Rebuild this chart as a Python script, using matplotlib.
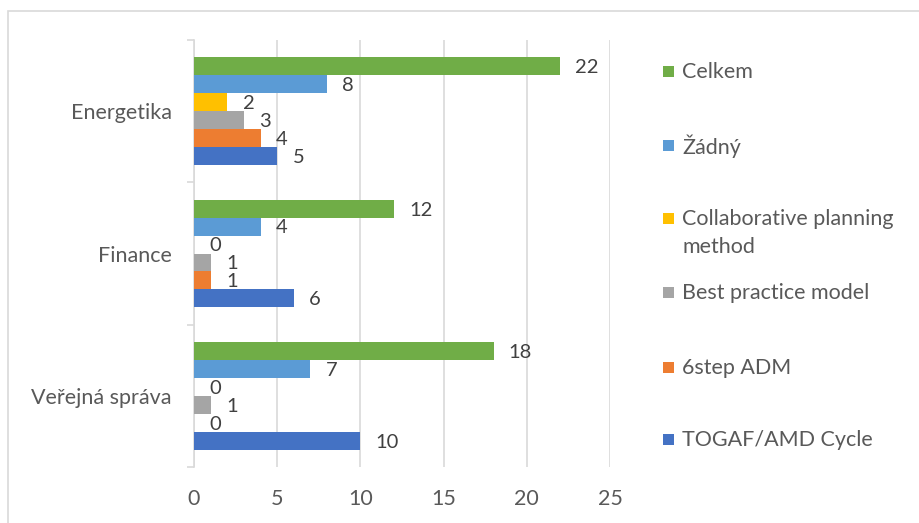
import numpy as np
import matplotlib
matplotlib.use("Agg")
from matplotlib import pyplot as plt
from matplotlib.patches import Rectangle

# categories from bottom to top
categories = ["Veřejná správa", "Finance", "Energetika"]

# series in stacking order (bottom bar of each group first)
series_names = [
    "TOGAF/AMD Cycle",
    "6step ADM",
    "Best practice model",
    "Collaborative planning\nmethod",
    "Žádný",
    "Celkem",
]
togaf = [10, 6, 5]
six_step = [0, 1, 4]
best_practice = [1, 1, 3]
collaborative = [0, 0, 2]
zadny = [7, 4, 8]
celkem = [18, 12, 22]

x_ticks = [0, 5, 10, 15, 20, 25]

colors = ["#4472C4", "#ED7D31", "#A5A5A5", "#FFC000", "#5B9BD5", "#70AD47"]
text_color = "#595959"
grid_color = "#D9D9D9"

plt.rcParams["font.family"] = ["Lato", "DejaVu Sans"]
plt.rcParams["font.size"] = 15.5

W, H = 919, 523
fig = plt.figure(figsize=(W / 100, H / 100), dpi=100)

# light outer frame of the chart area (left and top edges visible)
fig.patches.append(Rectangle((8 / W, -0.2), 2.0, 1.2 - 11 / H,
                             transform=fig.transFigure, fill=False,
                             edgecolor=grid_color, linewidth=1.2))

ax = fig.add_axes([194 / W, 56 / H, (610 - 194) / W, (483 - 56) / H])

values = [togaf, six_step, best_practice, collaborative, zadny, celkem]
y = np.arange(len(categories))
bar_h = 0.126
n = len(values)

for i, (vals, color) in enumerate(zip(values, colors)):
    pos = y + (i - (n - 1) / 2) * bar_h
    bars = ax.barh(pos, vals, height=bar_h, color=color, linewidth=0, zorder=3)
    for rect, v in zip(bars, vals):
        ax.annotate(str(v), (rect.get_width(), rect.get_y() + rect.get_height() / 2),
                    xytext=(11, -1), textcoords="offset points",
                    ha="left", va="center", color="#404040", fontsize=14.5)

ax.set_xlim(0, 25)
ax.set_ylim(-0.5, len(categories) - 0.5)
ax.set_xticks(x_ticks)
ax.set_xticklabels([str(t) for t in x_ticks], color=text_color)
ax.tick_params(axis="x", length=0, pad=16)

ax.set_yticks(y)
ax.set_yticklabels(categories, color=text_color)
ax.set_yticks(np.arange(len(categories) + 1) - 0.5, minor=True)
ax.tick_params(axis="y", which="major", length=0, pad=16)
ax.tick_params(axis="y", which="minor", length=5, color=grid_color, width=1.2)

ax.grid(axis="x", color=grid_color, linewidth=1.2, zorder=0)
for side in ["top", "right", "bottom"]:
    ax.spines[side].set_visible(False)
ax.spines["left"].set_color(grid_color)
ax.spines["left"].set_linewidth(1.2)

# legend on the right, topmost series first
legend_y = [72, 146, 219, 293, 368, 440]
for name, color, ly in zip(series_names[::-1], colors[::-1], legend_y):
    fy = 1 - ly / H
    fig.patches.append(Rectangle((663 / W, fy - 5 / H), 11 / W, 11 / H,
                                 transform=fig.transFigure, facecolor=color,
                                 edgecolor="none"))
    fig.text(682 / W, fy, name.split("\n")[0], ha="left", va="center",
             color=text_color)
    if "\n" in name:
        fig.text(682 / W, fy - 28 / H, name.split("\n")[1], ha="left",
                 va="center", color=text_color)

fig.savefig("out.png", dpi=100)
